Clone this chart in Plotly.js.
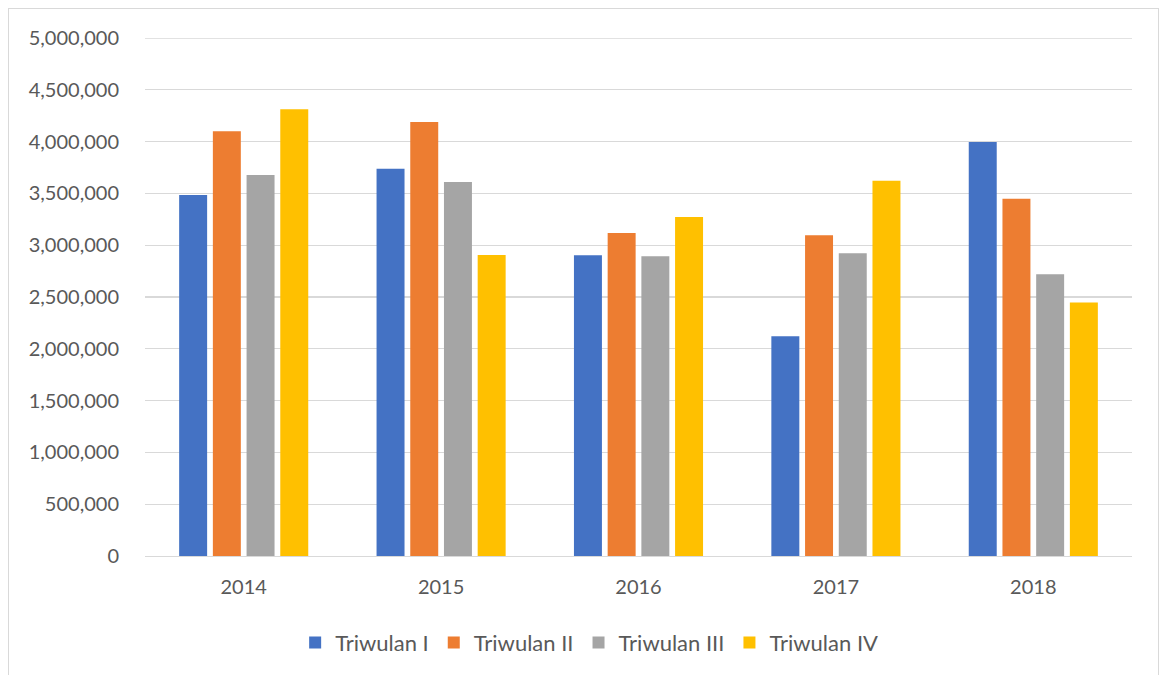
<!DOCTYPE html>
<html>
<head>
<meta charset="utf-8">
<script src="https://cdn.plot.ly/plotly-3.0.1.min.js"></script>
<style>
html,body{margin:0;padding:0;background:#fff;}
#frame{position:absolute;left:8px;top:8px;width:1151px;height:680px;border:1px solid #d9d9d9;box-sizing:border-box;}
#chart{position:absolute;left:0;top:0;width:1160px;height:675px;}
</style>
</head>
<body>
<div id="frame"></div>
<div id="chart"></div>
<script>
const years = ["2014", "2015", "2016", "2017", "2018"];
const seriesNames = ["Triwulan I", "Triwulan II", "Triwulan III", "Triwulan IV"];
const triwulanI   = [3485000, 3738000, 2903000, 2122000, 3995000];
const triwulanII  = [4100000, 4188000, 3118000, 3095000, 3449000];
const triwulanIII = [3677000, 3610000, 2893000, 2922000, 2720000];
const triwulanIV  = [4313000, 2906000, 3273000, 3622000, 2447000];
const colors = ["#4472C4", "#ED7D31", "#A5A5A5", "#FFC000"];
const yTicks = [0, 500000, 1000000, 1500000, 2000000, 2500000, 3000000, 3500000, 4000000, 4500000, 5000000];

const allSeries = [triwulanI, triwulanII, triwulanIII, triwulanIV];
const traces = allSeries.map((vals, i) => ({
  type: "bar",
  name: seriesNames[i],
  x: years,
  y: vals,
  marker: {color: colors[i]},
  hoverinfo: "x+y+name"
}));

const font = {family: "Lato, 'Open Sans', sans-serif", size: 20, color: "#595959"};

const layout = {
  width: 1160,
  height: 675,
  margin: {l: 145, r: 28, t: 38, b: 118},
  paper_bgcolor: "rgba(0,0,0,0)",
  plot_bgcolor: "rgba(0,0,0,0)",
  font: font,
  barmode: "group",
  bargap: 0.317,
  bargroupgap: 0.17,
  showlegend: true,
  legend: {
    orientation: "h",
    x: 0.45, xanchor: "center",
    y: -0.165, yanchor: "middle",
    font: {family: font.family, size: 22, color: "#595959"},
    traceorder: "normal",
    itemclick: false
  },
  shapes: [{
    type: "line", xref: "paper", yref: "y",
    x0: 0, x1: 1, y0: yTicks[yTicks.length - 1], y1: yTicks[yTicks.length - 1],
    line: {color: "#d9d9d9", width: 1.3}
  }],
  xaxis: {
    type: "category",
    showgrid: false,
    showline: true,
    linecolor: "#d9d9d9",
    linewidth: 1.3,
    ticks: "outside",
    ticklen: 13,
    tickcolor: "rgba(0,0,0,0)",
    tickfont: {family: font.family, size: 20, color: "#595959"}
  },
  yaxis: {
    range: [0, 5000000],
    tickvals: yTicks,
    tickformat: ",d",
    showgrid: true,
    gridcolor: "#d9d9d9",
    gridwidth: 1.3,
    zeroline: false,
    showline: false,
    ticks: "outside",
    ticklen: 21,
    tickcolor: "rgba(0,0,0,0)",
    tickfont: {family: font.family, size: 20, color: "#595959"}
  }
};

Plotly.newPlot("chart", traces, layout, {displayModeBar: false, staticPlot: true});
</script>
</body>
</html>
